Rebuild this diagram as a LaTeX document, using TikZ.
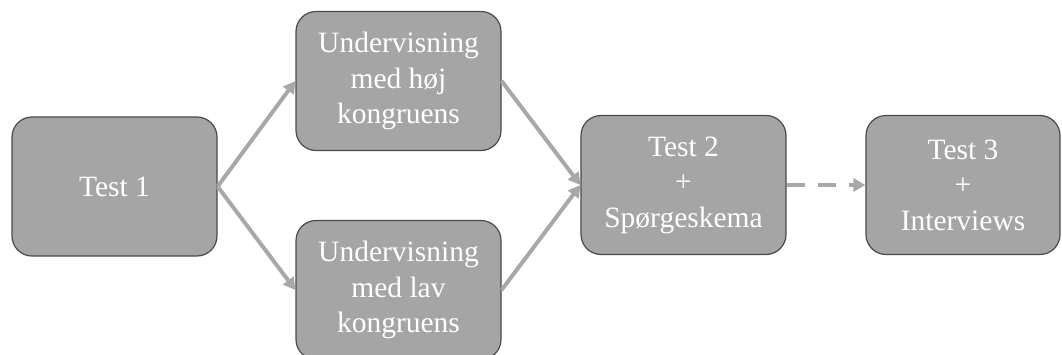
\documentclass[tikz,border=0pt]{standalone}
\usepackage{fontspec}
\setmainfont{Liberation Serif}
\usetikzlibrary{arrows.meta}
\definecolor{boxgray}{HTML}{A5A5A5}
\definecolor{edgegray}{HTML}{4A4A4A}
\definecolor{arrowgray}{HTML}{A8A8A8}
\begin{document}
\begin{tikzpicture}[x=1pt, y=-1pt,
        stage/.style={draw=edgegray, line width=1.2pt, fill=boxgray, rounded corners=20pt,
            minimum width=205pt, minimum height=139pt, text=white, align=center,
            font=\fontsize{29.5}{35.5}\selectfont},
        flow/.style={arrowgray, line width=4pt, -{Triangle[length=12pt,width=13pt]}}]
        \useasboundingbox (0,0) rectangle (1062,354);

        \node[stage] (t1) at (114.5,186.5) {Test 1};
        \node[stage] (hoj) at (398.5,81) {Undervisning\\med høj\\kongruens};
        \node[stage] (lav) at (398.5,290) {Undervisning\\med lav\\kongruens};
        \node[stage] (t2) at (683.5,185) {Test 2\\+\\Spørgeskema};
        \node[stage, minimum width=194pt] (t3) at (963,185) {Test 3\\+\\Interviews};

        \foreach \n in {hoj,lav} {
            \draw[flow] (t1.east) -- (\n.west);
            \draw[flow] (\n.east) -- (t2.west);
        }
        \draw[flow, dash pattern=on 18pt off 13pt] (t2.east) -- (t3.west);
    \end{tikzpicture}
\end{document}
